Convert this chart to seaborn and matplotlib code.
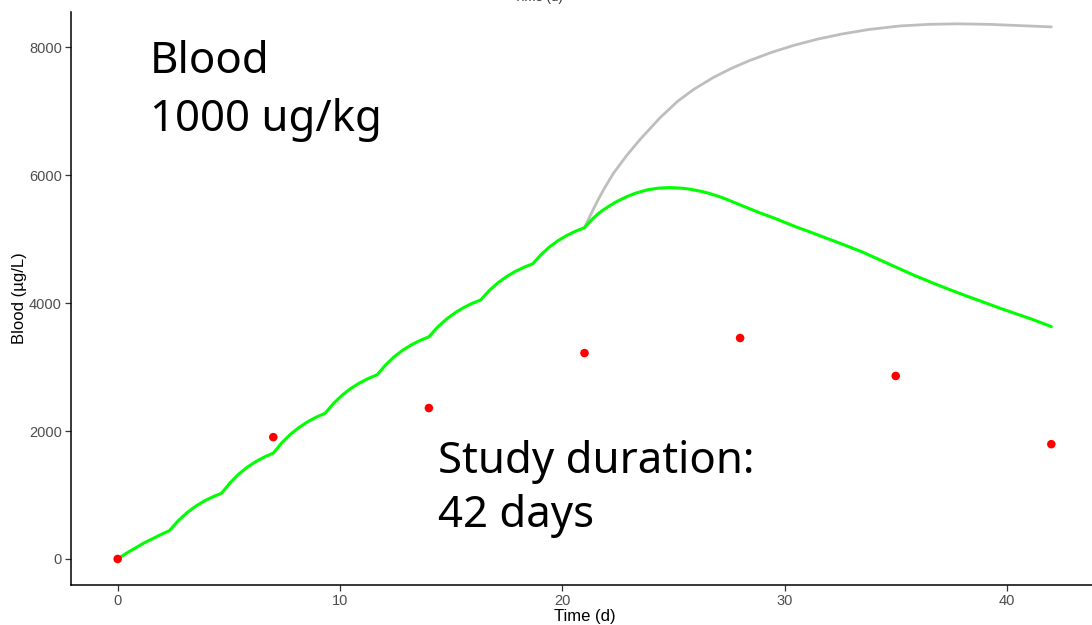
import numpy as np
import pandas as pd
import matplotlib
matplotlib.use("Agg")
import matplotlib.pyplot as plt
import seaborn as sns

# Simulated blood concentration, dosing three times a week up to day 21
sim_time = [0, 0.39, 0.78, 1.17, 1.56, 1.94,
            2.33, 2.72, 3.11, 3.5, 3.89, 4.28,
            4.67, 5.06, 5.44, 5.83, 6.22, 6.61,
            7.0, 7.39, 7.78, 8.17, 8.56, 8.94,
            9.33, 9.72, 10.11, 10.5, 10.89, 11.28,
            11.67, 12.06, 12.44, 12.83, 13.22, 13.61,
            14.0, 14.39, 14.78, 15.17, 15.56, 15.94,
            16.33, 16.72, 17.11, 17.5, 17.89, 18.28,
            18.67, 19.06, 19.44, 19.83, 20.22, 20.61,
            21.0, 21.2, 21.4, 21.6, 21.84, 22.1, 22.4, 22.9, 23.3, 23.8,
            24.3, 24.8, 25.3, 25.7, 26.2, 26.6, 27.2, 27.7, 28.3, 28.9,
            29.5, 30.0, 30.5, 31.1, 31.7, 32.3, 32.9, 33.5, 34.2, 35.0,
            35.8, 36.7, 37.4, 38.2, 39.0, 39.7, 40.4, 41.0, 41.5, 42.0]
sim_blood = [0, 89, 168, 248, 315, 381,
             443, 597, 721, 823, 905, 972,
             1027, 1192, 1326, 1435, 1524, 1596,
             1655, 1819, 1952, 2060, 2148, 2219,
             2278, 2436, 2565, 2669, 2754, 2823,
             2880, 3036, 3163, 3266, 3350, 3418,
             3474, 3625, 3748, 3848, 3930, 3996,
             4050, 4199, 4319, 4417, 4497, 4562,
             4615, 4764, 4884, 4982, 5062, 5127,
             5180, 5260, 5330, 5395, 5457, 5515, 5580, 5666, 5720, 5770,
             5798, 5807, 5800, 5785, 5752, 5718, 5650, 5580, 5495, 5410,
             5335, 5265, 5195, 5119, 5040, 4962, 4882, 4800, 4690, 4565,
             4440, 4311, 4215, 4110, 4010, 3920, 3835, 3765, 3700, 3633]

# Simulated concentration if dosing continued to day 42
cont_time = [21.0, 21.3, 21.6, 21.9, 22.3, 22.9, 23.5, 24.4, 25.2, 25.9,
             26.8, 27.6, 28.4, 29.4, 30.4, 31.5, 32.6, 33.8, 35.2, 36.5,
             37.8, 39.2, 40.6, 42.0]
cont_blood = [5180, 5400, 5610, 5800, 6030, 6310, 6560, 6900, 7160, 7340,
              7530, 7670, 7790, 7920, 8030, 8130, 8210, 8280, 8335, 8360,
              8368, 8360, 8340, 8320]

# Observed blood concentrations
obs_time = [0, 7, 14, 21, 28, 35, 42]
obs_blood = [0, 1905, 2360, 3220, 3455, 2862, 1795]

x_ticks = [0, 10, 20, 30, 40]
y_ticks = [0, 2000, 4000, 6000, 8000]

sns.set_theme(style="ticks")
plt.rcParams["font.family"] = ["Liberation Sans", "DejaVu Sans"]

W, H = 1092, 625
fig = plt.figure(figsize=(W / 100, H / 100), dpi=100)
# axes box in pixel units (left, top, right, bottom)
L, T, R, B = 71, 12, 1098, 585
ax = fig.add_axes([L / W, 1 - B / H, (R - L) / W, (B - T) / H])

sim_df = pd.DataFrame({"time": sim_time, "blood": sim_blood})
cont_df = pd.DataFrame({"time": cont_time, "blood": cont_blood})
obs_df = pd.DataFrame({"time": obs_time, "blood": obs_blood})

sns.lineplot(data=cont_df, x="time", y="blood", ax=ax, color="#BEBEBE",
             linewidth=2.0, estimator=None, sort=False, zorder=2)
sns.lineplot(data=sim_df, x="time", y="blood", ax=ax, color="#00FF00",
             linewidth=2.2, estimator=None, sort=False, zorder=3)
sns.scatterplot(data=obs_df, x="time", y="blood", ax=ax, color="#FF0000",
                s=38, edgecolor="none", zorder=4)

ax.set_xlim(-2.1, 44.1)
ax.set_ylim(-407, 8553)
ax.set_xticks(x_ticks)
ax.set_yticks(y_ticks)
ax.set_xticklabels([str(v) for v in x_ticks])
ax.set_yticklabels([str(v) for v in y_ticks])

for side in ("top", "right"):
    ax.spines[side].set_visible(False)
for side in ("left", "bottom"):
    ax.spines[side].set_color("#000000")
    ax.spines[side].set_linewidth(1.1)
ax.tick_params(axis="both", colors="#333333", length=4, width=0.9,
               labelsize=10.5, labelcolor="#4D4D4D", pad=2.5)

ax.set_xlabel("Time (d)", fontsize=12, color="#000000", labelpad=1)
ax.set_ylabel("Blood (µg/L)", fontsize=12, color="#000000", labelpad=1.5)
ax.grid(False)

# Axis title of the panel above, cut by the top edge
fig.text(538 / W, 1 - 0.8 / H, "Time (d)", fontsize=9.5, color="#333333",
         ha="center", va="baseline")

# Annotations
big = dict(fontsize=31.5, color="#000000", family=["Noto Sans", "DejaVu Sans"],
           ha="left", va="baseline")
fig.text(150 / W, 1 - 73 / H, "Blood", **big)
fig.text(150 / W, 1 - 131 / H, "1000 ug/kg", **big)
fig.text(438 / W, 1 - 473 / H, "Study duration:", **big)
fig.text(438 / W, 1 - 527 / H, "42 days", **big)

fig.savefig("out.png", dpi=100, facecolor="white")
